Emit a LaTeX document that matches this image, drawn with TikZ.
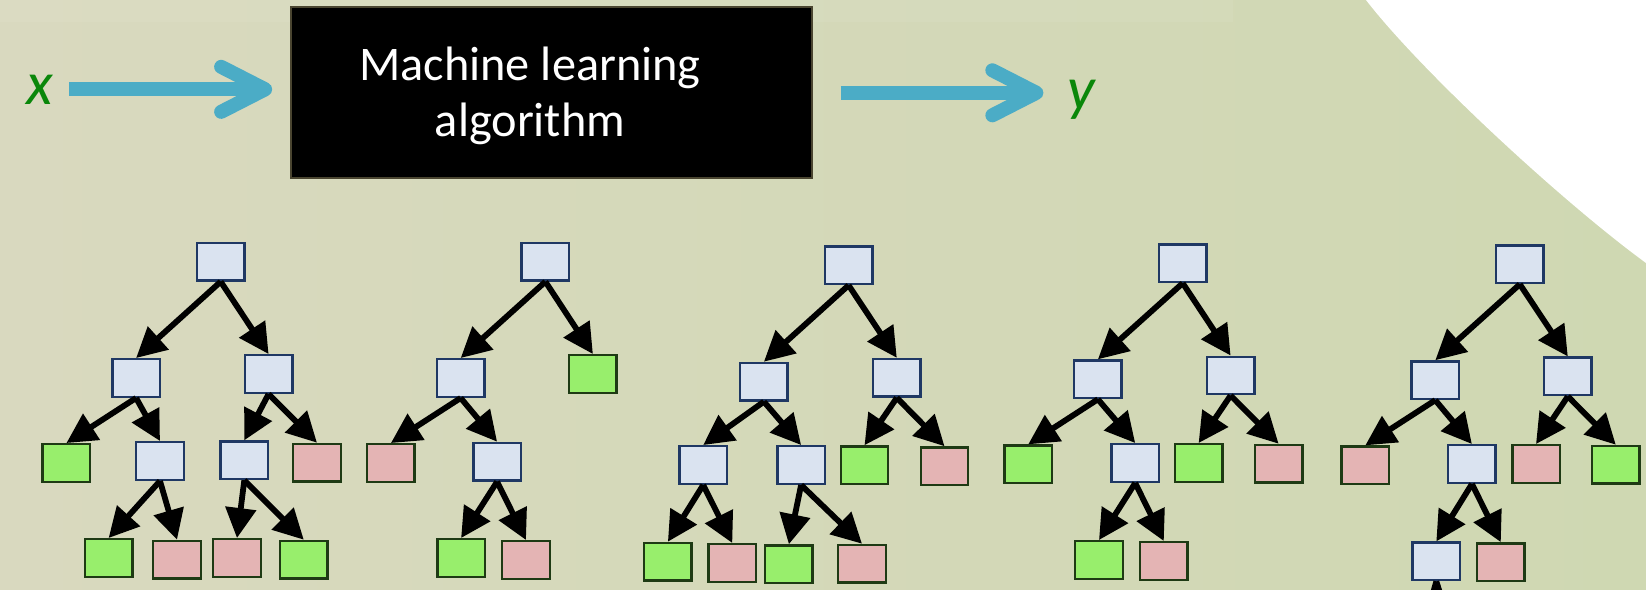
\documentclass[tikz,border=0pt]{standalone}
\usepackage{fontspec}
\setmainfont{Carlito}
\usetikzlibrary{arrows.meta}

\definecolor{fondoizq}{RGB}{217,217,191}
\definecolor{fondoder}{RGB}{207,216,178}
\definecolor{flecha}{RGB}{75,172,198}
\definecolor{verdetxt}{RGB}{10,135,10}
\definecolor{nodofill}{RGB}{218,227,240}
\definecolor{nodoline}{RGB}{31,56,100}
\definecolor{sifill}{RGB}{152,238,108}
\definecolor{nofill}{RGB}{228,180,180}
\definecolor{hojaline}{RGB}{30,58,20}
\definecolor{cajaline}{RGB}{74,69,48}

\tikzset{
	pregunta/.style={draw=nodoline, fill=nodofill, line width=1.4pt, minimum width=0.95cm, minimum height=0.75cm, inner sep=0pt},
	hojasi/.style={pregunta, draw=hojaline, fill=sifill},
	hojano/.style={pregunta, draw=hojaline, fill=nofill},
	rama/.style={line width=3.3pt, -{Triangle[length=0.6cm, width=0.6cm]}},
	flujo/.style={draw=flecha, line width=8pt, -{Straight Barb[length=0.88cm, width=0.9cm, round]}},
	letra/.style={text=verdetxt, font=\fontsize{35}{40}\selectfont\itshape, inner sep=0pt, anchor=base}
}

\begin{document}
\begin{tikzpicture}[x=0.02cm, y=-0.02cm]
		
		% Fondo
		\useasboundingbox (0,0) rectangle (1646,589);
		\clip (0,0) rectangle (1646,589);
		\shade[left color=fondoizq, right color=fondoder] (0,0) rectangle (1646,589);
		\fill[white, opacity=0.06] (0,0) rectangle (1233,22);
		\fill[white] (1366,0) .. controls (1420,70) and (1560,200) .. (1646,263) -- (1646,0) -- cycle;
		
		% Caja del algoritmo
		\node[draw=cajaline, fill=black, line width=1.1pt, minimum width=10.42cm, minimum height=3.42cm] (ml) at (551.6,92.8) {};
		\node[text=white, align=center, inner sep=0pt, font=\fontsize{27.5}{32}\selectfont] (mltxt) at (530,96) {Machine learning\\algorithm};
		\node[letra] (x) at (39.5,104) {x};
		\node[letra] (y) at (1081,109) {y};
		\draw[flujo, shorten <=0.32cm, shorten >=0.36cm] (x.east) -- (x.east -| ml.west);
		\draw[flujo, shorten <=0.55cm, shorten >=0.47cm] (ml.east) -- (ml.east -| y.west);
		
		% Arbol 1
		\node[pregunta] (a0) at (220.7,261.7) {};
		\node[pregunta] (a1) at (136.1,378) {};
		\node[pregunta] (a2) at (268.6,374) {};
		\node[hojasi] (a3) at (66.4,463) {};
		\node[pregunta] (a4) at (160,461) {};
		\node[pregunta] (a5) at (244.3,460.3) {};
		\node[hojano] (a6) at (317,462.7) {};
		\node[hojasi] (a7) at (108.6,558) {};
		\node[hojano] (a8) at (177,559.7) {};
		\node[hojano] (a9) at (237,558) {};
		\node[hojasi] (a10) at (303.8,559.7) {};
		
		% Arbol 2
		\node[pregunta] (b0) at (545.4,261.7) {};
		\node[pregunta] (b1) at (460.7,378) {};
		\node[hojasi] (b2) at (592.9,374) {};
		\node[hojano] (b3) at (390.9,463) {};
		\node[pregunta] (b4) at (497.1,461.7) {};
		\node[hojasi] (b5) at (461.1,558) {};
		\node[hojano] (b6) at (526,560) {};
		
		% Arbol 3
		\node[pregunta] (c0) at (848.6,265.3) {};
		\node[pregunta] (c1) at (763.9,381.7) {};
		\node[pregunta] (c2) at (896.8,377.8) {};
		\node[pregunta] (c3) at (703.2,465) {};
		\node[pregunta] (c4) at (801.1,465) {};
		\node[hojasi] (c5) at (864.5,465.2) {};
		\node[hojano] (c6) at (944.5,466.2) {};
		\node[hojasi] (c7) at (667.9,561.7) {};
		\node[hojano] (c8) at (732.3,563) {};
		\node[hojasi] (c9) at (788.9,564.2) {};
		\node[hojano] (c10) at (862,563.7) {};
		
		% Arbol 4
		\node[pregunta] (d0) at (1182.7,263.2) {};
		\node[pregunta] (d1) at (1097.9,379.3) {};
		\node[pregunta] (d2) at (1230.6,375.5) {};
		\node[hojasi] (d3) at (1028.2,464.3) {};
		\node[pregunta] (d4) at (1135.2,463) {};
		\node[hojasi] (d5) at (1198.6,463) {};
		\node[hojano] (d6) at (1278.6,463.7) {};
		\node[hojasi] (d7) at (1099,560) {};
		\node[hojano] (d8) at (1163.8,561) {};
		
		% Arbol 5
		\node[pregunta] (e0) at (1519.8,264.3) {};
		\node[pregunta] (e1) at (1435.3,380.2) {};
		\node[pregunta] (e2) at (1567.8,376.4) {};
		\node[hojano] (e3) at (1365.3,465.3) {};
		\node[pregunta] (e4) at (1471.9,464) {};
		\node[hojano] (e5) at (1536,464) {};
		\node[hojasi] (e6) at (1615.8,464.7) {};
		\node[pregunta] (e7) at (1436.3,561.4) {};
		\node[hojano] (e8) at (1500.8,562.1) {};
		\coordinate (e9) at (1420,640);
		\coordinate (e10) at (1455,640);
		
		% Ramas
		\foreach \p/\h in {a0/a1,a0/a2,a1/a3,a1/a4,a2/a5,a2/a6,a4/a7,a4/a8,a5/a9,a5/a10,
			b0/b1,b0/b2,b1/b3,b1/b4,b4/b5,b4/b6,
			c0/c1,c0/c2,c1/c3,c1/c4,c2/c5,c2/c6,c3/c7,c3/c8,c4/c9,c4/c10,
			d0/d1,d0/d2,d1/d3,d1/d4,d2/d5,d2/d6,d4/d7,d4/d8,
			e0/e1,e0/e2,e1/e3,e1/e4,e2/e5,e2/e6,e4/e7,e4/e8} {
			\draw[rama] (\p.south) -- (\h.north);
		}
		\draw[rama] (e7.south) -- (e9);
		\draw[rama] (e7.south) -- (e10);
		
		\end{tikzpicture}
\end{document}
